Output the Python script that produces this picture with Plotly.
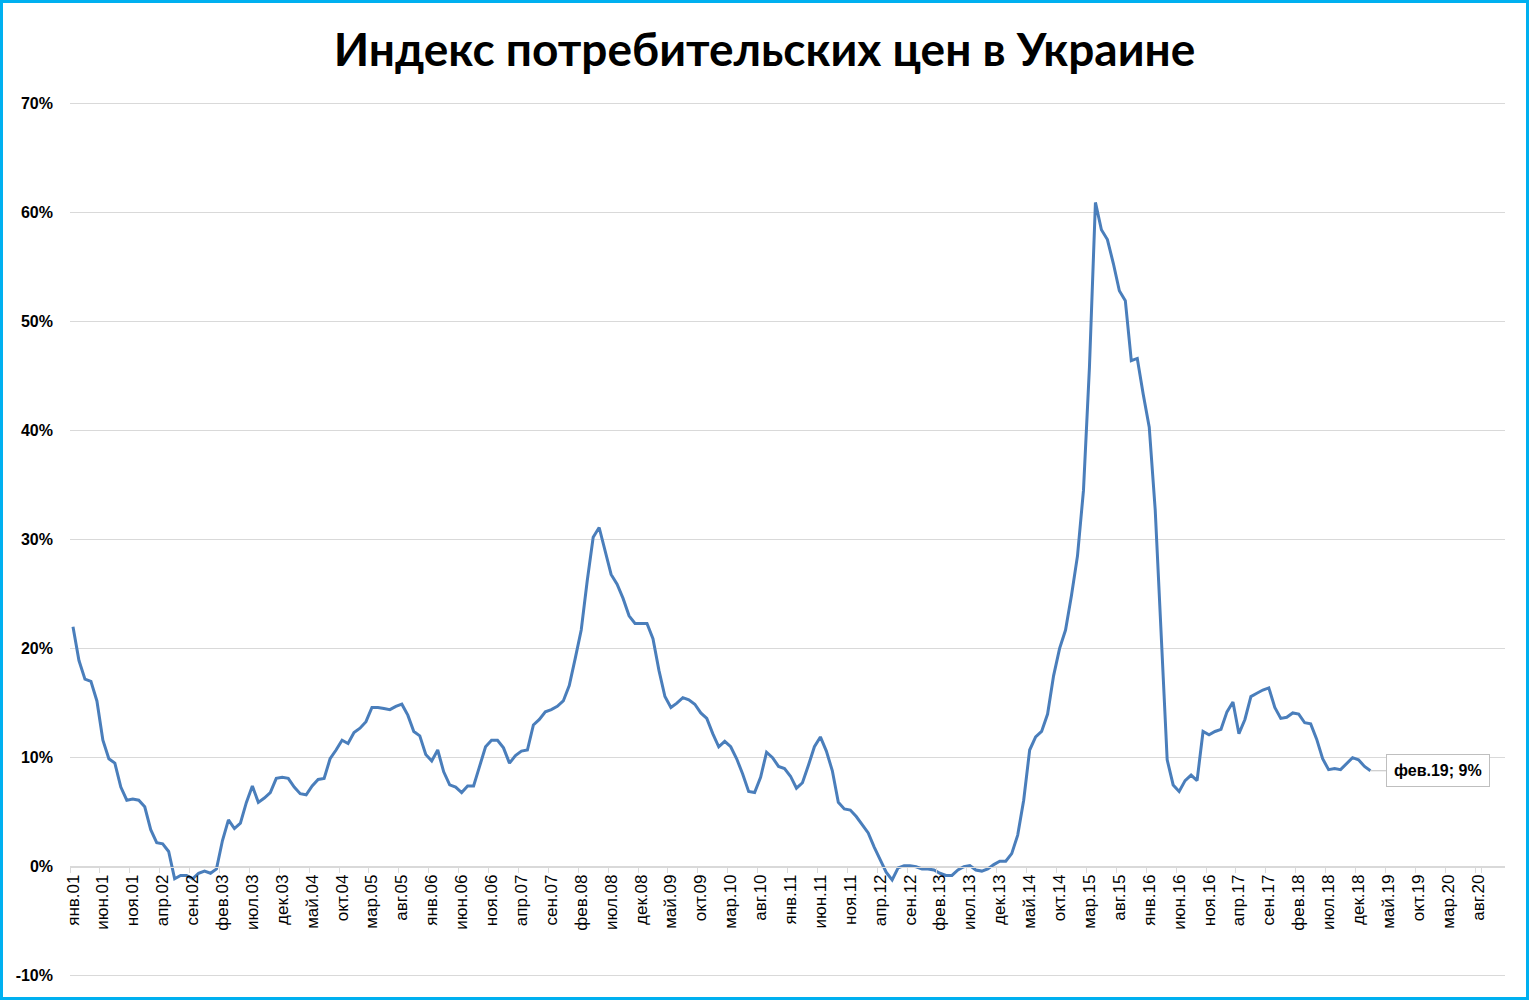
import plotly.graph_objects as go

month_names = ["янв", "фев", "мар", "апр", "май", "июн", "июл", "авг", "сен", "окт", "ноя", "дек"]
years = ["%02d" % y for y in range(1, 21)]
categories = [m + "." + y for y in years for m in month_names]  # янв.01 ... дек.20

cpi_2001 = [22.0, 18.9, 17.2, 17.0, 15.2, 11.6, 9.9, 9.5, 7.3, 6.1, 6.2, 6.1]
cpi_2002 = [5.5, 3.4, 2.2, 2.1, 1.4, -1.1, -0.8, -0.8, -1.1, -0.6, -0.4, -0.6]
cpi_2003 = [-0.2, 2.4, 4.3, 3.5, 4.0, 5.9, 7.4, 5.9, 6.3, 6.8, 8.1, 8.2]
cpi_2004 = [8.1, 7.3, 6.7, 6.6, 7.4, 8.0, 8.1, 9.9, 10.7, 11.6, 11.3, 12.3]
cpi_2005 = [12.7, 13.3, 14.6, 14.6, 14.5, 14.4, 14.7, 14.9, 13.9, 12.4, 12.0, 10.3]
cpi_2006 = [9.7, 10.7, 8.7, 7.5, 7.3, 6.8, 7.4, 7.4, 9.2, 11.0, 11.6, 11.6]
cpi_2007 = [10.9, 9.5, 10.2, 10.6, 10.7, 13.0, 13.5, 14.2, 14.4, 14.7, 15.2, 16.6]
cpi_2008 = [19.1, 21.7, 26.2, 30.2, 31.1, 29.0, 26.8, 25.9, 24.6, 23.0, 22.3, 22.3]
cpi_2009 = [22.3, 20.9, 18.0, 15.6, 14.6, 15.0, 15.5, 15.3, 14.9, 14.1, 13.6, 12.2]
cpi_2010 = [11.0, 11.5, 11.0, 9.9, 8.5, 6.9, 6.8, 8.2, 10.5, 10.0, 9.2, 9.0]
cpi_2011 = [8.3, 7.2, 7.7, 9.3, 11.0, 11.9, 10.6, 8.8, 5.9, 5.3, 5.2, 4.6]
cpi_2012 = [3.8, 3.1, 1.8, 0.6, -0.5, -1.2, -0.1, 0.1, 0.1, 0.0, -0.2, -0.2]
cpi_2013 = [-0.3, -0.6, -0.8, -0.8, -0.3, 0.0, 0.1, -0.3, -0.4, -0.2, 0.2, 0.5]
cpi_2014 = [0.5, 1.2, 2.9, 6.1, 10.7, 11.9, 12.4, 14.0, 17.5, 20.0, 21.7, 24.9]
cpi_2015 = [28.5, 34.5, 45.8, 60.9, 58.4, 57.5, 55.3, 52.8, 51.9, 46.4, 46.6, 43.3]
cpi_2016 = [40.3, 32.7, 20.9, 9.8, 7.5, 6.9, 7.9, 8.4, 7.9, 12.4, 12.1, 12.4]
cpi_2017 = [12.6, 14.2, 15.1, 12.2, 13.5, 15.6, 15.9, 16.2, 16.4, 14.6, 13.6, 13.7]
cpi_2018 = [14.1, 14.0, 13.2, 13.1, 11.7, 9.9, 8.9, 9.0, 8.9, 9.5, 10.0, 9.8]
cpi_2019 = [9.2, 8.8]

values = (cpi_2001 + cpi_2002 + cpi_2003 + cpi_2004 + cpi_2005 + cpi_2006 + cpi_2007
          + cpi_2008 + cpi_2009 + cpi_2010 + cpi_2011 + cpi_2012 + cpi_2013 + cpi_2014
          + cpi_2015 + cpi_2016 + cpi_2017 + cpi_2018 + cpi_2019)
x_vals = categories[:len(values)]

tick_labels = categories[::5]
y_ticks = [-10, 0, 10, 20, 30, 40, 50, 60, 70]
y_tick_text = ["-10%", "0%", "10%", "20%", "30%", "40%", "50%", "60%", "70%"]

title_text = "Индекс потребительских цен в Украине"
label_text = "фев.19; 9%"

W, H = 1529, 1000
L, R, T, B = 70, 24, 101, 22
pw, ph = W - L - R, H - T - B
y_min, y_max = -10.2, 70.2

fig = go.Figure()
fig.add_trace(go.Scatter(
    x=x_vals, y=values, mode="lines",
    line=dict(color="#4a7ebb", width=3),
    showlegend=False, hoverinfo="x+y",
))

fig.add_annotation(
    x=x_vals[-1], y=values[-1], xref="x", yref="y",
    text="<b>" + label_text + "</b>",
    showarrow=True, arrowhead=0, arrowwidth=1, arrowcolor="#bfbfbf",
    ax=68, ay=0, standoff=0,
    bgcolor="white", bordercolor="#bfbfbf", borderwidth=1, borderpad=7,
    font=dict(family="Liberation Sans, Arial", size=16, color="black"),
)

# blue frame around the whole chart area
def px_to_paper_x(px):
    return (px - L) / pw

def px_to_paper_y(py):
    return (H - B - py) / ph

fig.add_shape(
    type="rect", xref="paper", yref="paper",
    x0=px_to_paper_x(1.5), x1=px_to_paper_x(W - 1.5),
    y0=px_to_paper_y(H - 1.5), y1=px_to_paper_y(1.5),
    line=dict(color="#00b0f0", width=3), fillcolor="rgba(0,0,0,0)", layer="above",
)

fig.update_layout(
    width=W, height=H,
    margin=dict(l=L, r=R, t=T, b=B, pad=0),
    paper_bgcolor="white", plot_bgcolor="white",
    title=dict(
        text="<b>" + title_text + "</b>",
        x=0.5, xanchor="center", xref="container",
        y=1 - 50 / H, yanchor="middle", yref="container",
        font=dict(family="Lato, Open Sans, sans-serif", size=46, color="black"),
    ),
    xaxis=dict(
        type="category",
        categoryorder="array", categoryarray=categories,
        range=[-0.5, len(categories) - 0.5],
        tickmode="array", tickvals=tick_labels, ticktext=tick_labels,
        tickangle=-90, tickson="boundaries",
        ticks="outside", ticklen=5, tickcolor="#d9d9d9", tickwidth=1,
        showline=True, linecolor="#d9d9d9", linewidth=1,
        showgrid=False, zeroline=False,
        anchor="free", position=(0 - y_min) / (y_max - y_min),
        tickfont=dict(family="Liberation Sans, Arial", size=17, color="black"),
    ),
    yaxis=dict(
        range=[y_min, y_max], tickmode="array", tickvals=y_ticks, ticktext=y_tick_text,
        showgrid=True, gridcolor="#d9d9d9", gridwidth=1,
        zeroline=False, showline=False, ticks="",
        ticklabelstandoff=16,
        tickfont=dict(family="Liberation Sans, Arial", size=16, color="black", weight="bold"),
    ),
)

fig.write_html("out.html")
